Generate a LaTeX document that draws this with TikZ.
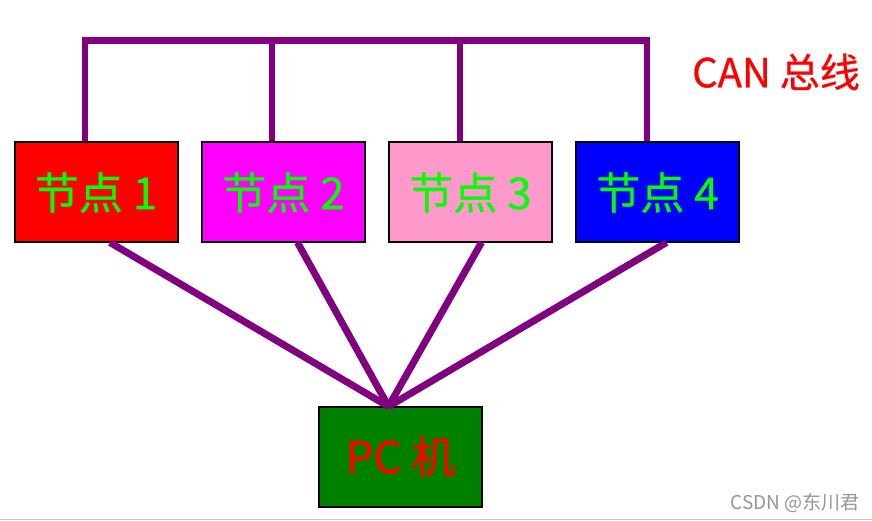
\documentclass[tikz,border=0pt]{standalone}
\usepackage{fontspec}
\newfontfamily\cjk{Noto Sans CJK SC}
\newfontfamily\cjkheavy[FakeBold=0.6]{Noto Sans CJK SC}
\definecolor{busc}{RGB}{128,0,128}
\definecolor{pinkc}{RGB}{255,153,204}
\definecolor{magc}{RGB}{255,0,255}
\definecolor{redc}{RGB}{255,0,0}
\definecolor{bluec}{RGB}{0,0,255}
\definecolor{pcgreen}{RGB}{0,128,0}
\definecolor{txtgreen}{RGB}{0,255,0}
\definecolor{wmgray}{RGB}{150,150,150}
\definecolor{rulegray}{RGB}{200,200,200}
\begin{document}
\begin{tikzpicture}[x=1pt,y=-1pt,
  box/.style={draw=black,line width=2pt,minimum width=163pt,minimum height=100pt,inner sep=0pt,text=txtgreen,font=\cjkheavy\fontsize{44}{44}\selectfont},
  busline/.style={busc,line width=6.5pt},
  link/.style={busc,line width=7pt}]
\useasboundingbox (0,0) rectangle (872,521);
\fill[white] (0,0) rectangle (872,521);
\draw[rulegray,line width=1.5pt] (0,519.5) -- (872,519.5);
\node[box,fill=redc] (n1) at (96,192.5) {节点 1};
\node[box,fill=magc] (n2) at (283.5,192.5) {节点 2};
\node[box,fill=pinkc] (n3) at (470.5,192.5) {节点 3};
\node[box,fill=bluec] (n4) at (657.5,192.5) {节点 4};
\node[box,fill=pcgreen,text=redc] (pc) at (400.5,456.5) {PC 机};
\coordinate (b1) at (85,40.5);
\coordinate (b2) at (272,40.5);
\coordinate (b3) at (460,40.5);
\coordinate (b4) at (647,40.5);
\draw[busline] ([xshift=-3.25pt]b1) -- ([xshift=3.25pt]b4);
\foreach \i in {1,2,3,4}{\draw[busline] (b\i) -- (b\i |- n\i.north);}
\coordinate (pctop) at ([xshift=-12pt,yshift=-1pt]pc.north);
\draw[link] ([xshift=14pt,yshift=1pt]n1.south) -- (pctop);
\draw[link] ([xshift=14pt,yshift=1pt]n2.south) -- (pctop);
\draw[link] ([xshift=11pt,yshift=1pt]n3.south) -- (pctop);
\draw[link] ([xshift=9pt,yshift=1pt]n4.south) -- (pctop);
\node[text=redc,font=\cjkheavy\fontsize{40}{40}\selectfont,inner sep=0pt] (can) at (776,72) {CAN 总线};
\node[text=wmgray,font=\cjk\fontsize{19}{19}\selectfont,inner sep=0pt] (wm) at (795,503) {CSDN @东川君};
\end{tikzpicture}
\end{document}
